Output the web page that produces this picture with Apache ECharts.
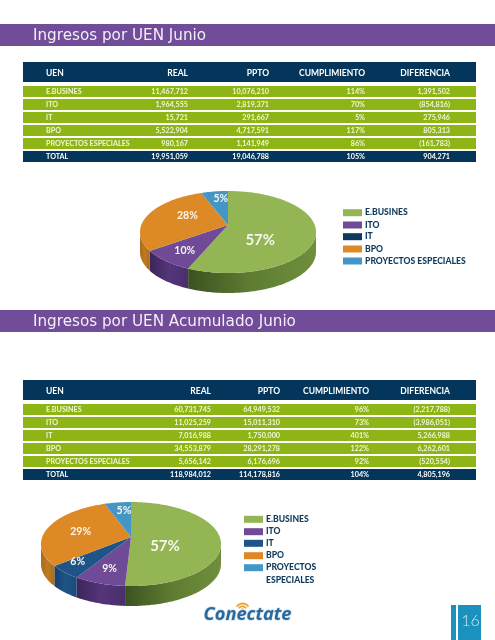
<!DOCTYPE html>
<html><head><meta charset="utf-8">
<style>html,body{margin:0;padding:0;background:#fff}#c{width:495px;height:640px}</style>
<script src="https://cdn.jsdelivr.net/npm/echarts@6/dist/echarts.min.js"></script>
</head><body><div id="c"></div>
<script>
const categories = ['E.BUSINES','ITO','IT','BPO','PROYECTOS ESPECIALES'];
const headers = ['UEN','REAL','PPTO','CUMPLIMIENTO','DIFERENCIA'];
const junioReal = [11467712,1964555,15721,5522904,980167];
const junioPpto = ['10,076,210','2,819,371','291,667','4,717,591','1,141,949'];
const junioCumpl = ['114%','70%','5%','117%','86%'];
const junioDif = ['1,391,502','(854,816)','275,946','805,313','(161,783)'];
const junioTotal = ['TOTAL','19,951,059','19,046,788','105%','904,271'];
const junioPieLabels = ['57%','10%','','28%','5%'];
const acumReal = [60731745,11025259,7016988,34553879,5656142];
const acumPpto = ['64,949,532','15,011,310','1,750,000','28,291,278','6,176,696'];
const acumCumpl = ['96%','73%','401%','122%','92%'];
const acumDif = ['(2,217,788)','(3,986,051)','5,266,988','6,262,601','(520,554)'];
const acumTotal = ['TOTAL','118,984,012','114,178,816','104%','4,805,196'];
const acumPieLabels = ['57%','9%','6%','29%','5%'];

const NAVY='#04355a', LIME='#8db516', PURPLE='#714c98';
const FONT='Lato, "Open Sans", sans-serif';
const TOPS=['#93b553','#6f4a96','#0f3a5c','#dd8a26','#4396c6'];
const TOPS2=['#93b553','#6f4a96','#1f5488','#dd8a26','#4396c6'];
const WALLS=[['#6f8f3c','#5f7d33','#3b5220'],['#4a2f6c','#54357a','#3d2558'],['#1d4a78','#1f5488','#173f68'],['#a86c1c','#c07a20','#a86c1c'],['#2a6f9a','#4396c6','#2a6f9a']];
const fmt=n=>n.toLocaleString('en-US');
const g=[];
function rect(x,y,w,h,fill){g.push({type:'rect',shape:{x,y,width:w,height:h},style:{fill},silent:true});}
function txt(t,x,y,o){g.push({type:'text',x,y,silent:true,z:5,style:Object.assign({text:t,fill:'#fff',font:'700 7.2px '+FONT,textAlign:'left',textVerticalAlign:'middle'},o||{})});}

function band(y,t){
  rect(0,y,495,22,PURPLE);
  txt(t,33,y+12,{font:'400 15.2px "DejaVu Sans", Verdana, sans-serif',fill:'#f3eef7'});
}
function table(y0,cols,real,ppto,cum,dif,total){
  rect(23,y0,453,20,NAVY);
  const hf='700 8.5px '+FONT;
  headers.forEach((h,i)=>txt(h,i?cols[i-1]:46,y0+11,{font:hf,textAlign:i?'right':'left'}));
  const rowTop=y0+24;
  categories.forEach((c,r)=>{
    const y=rowTop+13*r;
    rect(23,y,453,11,LIME);
    const cm='#f2f6d8';
    const f='700 7.2px '+FONT;
    txt(c,46,y+6,{font:f,fill:cm});
    [fmt(real[r]),ppto[r],cum[r],dif[r]].forEach((v,i)=>txt(v,cols[i],y+6,{font:f,fill:cm,textAlign:'right'}));
  });
  const y=rowTop+65;
  rect(23,y,453,11,NAVY);
  total.forEach((v,i)=>txt(v,i?cols[i-1]:46,y+6,{font:'700 7.2px '+FONT,textAlign:i?'right':'left'}));
}
function legend(x,ys,cols,lines){
  lines.forEach((l,i)=>{
    if(cols[i]) rect(x,ys[i]-3.5,19,7,cols[i]);
    txt(l,x+22,ys[i],{font:'900 8.6px '+FONT,fill:'#0f3a5c'});
  });
}
band(24,'Ingresos por UEN Junio');
band(310,'Ingresos por UEN Acumulado Junio');
table(62,[188,269,365,450],junioReal,junioPpto,junioCumpl,junioDif,junioTotal);
table(380,[211,280,369,450],acumReal,acumPpto,acumCumpl,acumDif,acumTotal);
legend(343,[212.7,225,236.7,249,261],TOPS,categories);
legend(244,[519.3,531.7,543.3,555.7,567.7,580],TOPS2.concat(['']),['E.BUSINES','ITO','IT','BPO','PROYECTOS','ESPECIALES']);

// page number box
rect(451,605,30,35,'#1b91bd');
rect(456,605,2,35,'#ffffff');
txt('16',470.5,621,{font:'300 16px Lato, sans-serif',textAlign:'center',fill:'#cfeaf5'});
// logo
txt('Conectate',247.5,614.5,{font:'italic 700 18.3px "Open Sans", sans-serif',textAlign:'center',fill:'#2b6a9c',stroke:'#dbe7f0',lineWidth:1.5});
[[7,1.8],[4.2,1.8]].forEach(([r,w])=>g.push({type:'arc',silent:true,shape:{cx:242.5,cy:610.5,r,startAngle:-Math.PI*0.82,endAngle:-Math.PI*0.18},style:{stroke:'#e8a33a',lineWidth:w,fill:null}}));
g.push({type:'circle',silent:true,shape:{cx:242.5,cy:609.5,r:1.2},style:{fill:'#e8a33a'}});

function pieSeries(values,labels,tops,geo){
  const total=values.reduce((a,b)=>a+b,0);
  return {
    type:'custom',coordinateSystem:'none',silent:true,animation:false,clip:false,
    data:values.map((v,i)=>({value:[v,i]})),
    renderItem(params,api){
      const i=api.value(1), v=api.value(0);
      let before=0; for(let k=0;k<i;k++) before+=values[k];
      const a0=before/total*Math.PI*2, a1=(before+v)/total*Math.PI*2;
      const P=a=>[geo.cx+geo.rx*Math.sin(a),geo.cy-geo.ry*Math.cos(a)];
      const arc=(s,e)=>{const n=Math.max(2,Math.ceil((e-s)/0.02));const o=[];for(let j=0;j<=n;j++)o.push(P(s+(e-s)*j/n));return o;};
      const children=[];
      const ws=Math.max(a0,Math.PI/2), we=Math.min(a1,Math.PI*1.5);
      const w=WALLS[i];
      if(we>ws){
        const pts=arc(ws,we);
        const poly=pts.concat(pts.slice().reverse().map(p=>[p[0],p[1]+geo.depth]));
        children.push({type:'polygon',shape:{points:poly},style:{fill:new echarts.graphic.LinearGradient(0,0,1,0,[{offset:1,color:w[0]},{offset:.5,color:w[1]},{offset:0,color:w[2]}].reverse())}});
      }
      const top=[[geo.cx,geo.ay]].concat(arc(a0,a1));
      children.push({type:'polygon',shape:{points:top},style:{fill:tops[i]},z2:2});
      if(labels[i]){
        const m=(a0+a1)/2,rim=P(m),t=geo.t[i],nudge=geo.nudge[i];
        children.push({type:'text',z2:10,x:geo.cx+(rim[0]-geo.cx)*t+nudge[0],y:geo.ay+(rim[1]-geo.ay)*t+nudge[1],
          style:{text:labels[i],fill:'#f7f7ee',font:(i===0?'700 15px ':'700 10.5px ')+'Lato, sans-serif',textAlign:'center',textVerticalAlign:'middle'}});
      }
      return {type:'group',children};
    }
  };
}
const pie1={cx:228,cy:232,ay:225,rx:88,ry:41,depth:20,t:[.4,.7,0,.5,.75],nudge:[[-2,9],[0,0],[0,0],[0,-5],[3,-1]]};
const pie2={cx:131,cy:544,ay:537,rx:90,ry:42,depth:20,t:[.4,.62,.62,.55,.75],nudge:[[-2,6],[-2,3],[-12,3],[-4,-1],[3,0]]};
const chart=echarts.init(document.getElementById('c'),null,{renderer:'canvas'});
chart.setOption({animation:false,graphic:{elements:g},
  series:[pieSeries(junioReal,junioPieLabels,TOPS,pie1),pieSeries(acumReal,acumPieLabels,TOPS2,pie2)]});
</script></body></html>
